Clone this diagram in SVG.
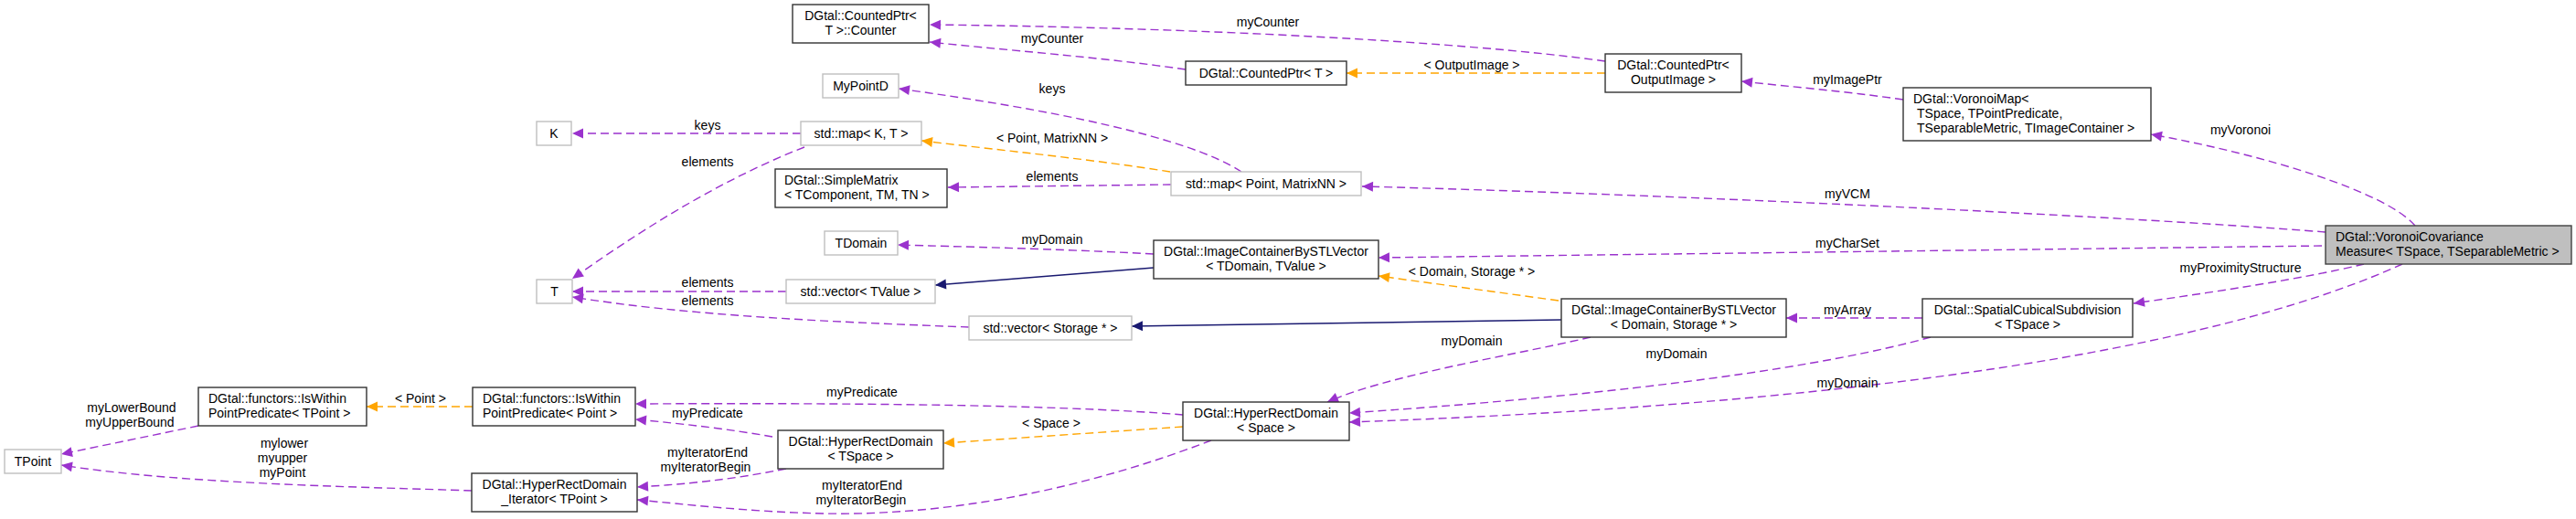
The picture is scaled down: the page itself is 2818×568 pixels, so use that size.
<svg xmlns="http://www.w3.org/2000/svg" width="2818" height="568" viewBox="0 0 2818 568">
<style>
text{font-family:"Liberation Sans",Arial,sans-serif;font-size:14px;fill:#000}
.c{text-anchor:middle}
.n rect{fill:#fff;stroke:#333;stroke-width:1.4}
.g rect{fill:#fff;stroke:#bfbfbf;stroke-width:1.4}
.m rect{fill:#bfbfbf;stroke:#404040;stroke-width:1.4}
.p{fill:none;stroke:#9a32cd;stroke-width:1.4;stroke-dasharray:9,5;marker-end:url(#ap)}
.o{fill:none;stroke:#ffa500;stroke-width:1.4;stroke-dasharray:9,5;marker-end:url(#ao)}
.s{fill:none;stroke:#191970;stroke-width:1.4;marker-end:url(#as)}
</style>
<defs>
<marker id="ap" markerUnits="userSpaceOnUse" markerWidth="13" markerHeight="11" refX="12" refY="5.5" orient="auto" overflow="visible"><path d="M0,0 L12,5.5 L0,11 z" fill="#9a32cd"/></marker>
<marker id="ao" markerUnits="userSpaceOnUse" markerWidth="13" markerHeight="11" refX="12" refY="5.5" orient="auto" overflow="visible"><path d="M0,0 L12,5.5 L0,11 z" fill="#ffa500"/></marker>
<marker id="as" markerUnits="userSpaceOnUse" markerWidth="13" markerHeight="11" refX="12" refY="5.5" orient="auto" overflow="visible"><path d="M0,0 L12,5.5 L0,11 z" fill="#191970"/></marker>
</defs>
<rect width="2818" height="568" fill="#fff"/>
<g id="edges">
<path class="p" d="M1756,67 C1600,45 1300,30 1017,27"/>
<text class="c" x="1387" y="29">myCounter</text>
<path class="p" d="M1297,76 C1200,62 1100,55 1017,46"/>
<text class="c" x="1151" y="47">myCounter</text>
<path class="o" d="M1756,80 L1473,80"/>
<text class="c" x="1610" y="76">&lt; OutputImage &gt;</text>
<path class="p" d="M2082,109 C2020,100 1960,95 1905,89"/>
<text class="c" x="2021" y="92">myImagePtr</text>
<path class="p" d="M2642,247 C2610,210 2480,170 2353,147"/>
<text class="c" x="2451" y="147">myVoronoi</text>
<path class="p" d="M1358,188 C1300,150 1150,120 983,97"/>
<text class="c" x="1151" y="102">keys</text>
<path class="o" d="M1280,188 C1200,175 1100,165 1008,154"/>
<text class="c" x="1151" y="156">&lt; Point, MatrixNN &gt;</text>
<path class="p" d="M1281,202 L1037,205"/>
<text class="c" x="1151" y="198">elements</text>
<path class="p" d="M2544,254 C2300,235 1800,212 1490,204"/>
<text class="c" x="2021" y="217">myVCM</text>
<path class="p" d="M876,146 L626,146"/>
<text class="c" x="774" y="142">keys</text>
<path class="p" d="M880,161 C780,200 690,260 626,305"/>
<text class="c" x="774" y="182">elements</text>
<path class="p" d="M1262,278 C1150,272 1050,270 982,268"/>
<text class="c" x="1151" y="267">myDomain</text>
<path class="p" d="M2540,269 L1508,282"/>
<text class="c" x="2021" y="271">myCharSet</text>
<path class="s" d="M1262,293 L1023,312"/>
<path class="p" d="M860,319 L626,319"/>
<text class="c" x="774" y="314">elements</text>
<path class="p" d="M1060,358 C900,352 750,345 626,325"/>
<text class="c" x="774" y="334">elements</text>
<path class="o" d="M1705,329 L1508,302"/>
<text class="c" x="1610" y="302">&lt; Domain, Storage * &gt;</text>
<path class="s" d="M1708,350 L1238,357"/>
<path class="p" d="M2103,348 L1954,348"/>
<text class="c" x="2021" y="344">myArray</text>
<path class="p" d="M2586,289 C2520,305 2420,320 2334,332"/>
<text class="c" x="2451" y="298">myProximityStructure</text>
<path class="p" d="M1740,369 C1650,390 1520,410 1452,440"/>
<text class="c" x="1610" y="378">myDomain</text>
<path class="p" d="M2112,369 C2000,400 1800,430 1476,452"/>
<text class="c" x="1834" y="392">myDomain</text>
<path class="p" d="M2628,289 C2450,370 2100,440 1476,462"/>
<text class="c" x="2021" y="424">myDomain</text>
<path class="p" d="M1294,454 C1150,442 900,441 695,442"/>
<text class="c" x="943" y="434">myPredicate</text>
<path class="o" d="M1294,467 L1032,485"/>
<text class="c" x="1150" y="468">&lt; Space &gt;</text>
<path class="p" d="M1325,482 C1200,530 1050,565 900,562 C820,560 750,552 697,547"/>
<text class="c" x="943" y="536">myIteratorEnd</text>
<text class="c" x="942" y="552">myIteratorBegin</text>
<path class="p" d="M845,478 C800,470 750,464 695,459"/>
<text class="c" x="774" y="457">myPredicate</text>
<path class="p" d="M860,513 C800,525 750,530 697,533"/>
<text class="c" x="774" y="500">myIteratorEnd</text>
<text class="c" x="772" y="516">myIteratorBegin</text>
<path class="o" d="M517,445 L401,445"/>
<text class="c" x="460" y="441">&lt; Point &gt;</text>
<path class="p" d="M217,466 L67,497"/>
<text class="c" x="144" y="451">myLowerBound</text>
<text class="c" x="142" y="467">myUpperBound</text>
<path class="p" d="M516,537 C400,533 200,530 67,509"/>
<text class="c" x="311" y="490">mylower</text>
<text class="c" x="309" y="506">myupper</text>
<text class="c" x="309" y="522">myPoint</text>
</g>
<g id="counter" class="n"><rect x="867" y="5" width="149" height="42"/><text class="c" x="941.5" y="22">DGtal::CountedPtr&lt;</text><text class="c" x="941.5" y="38">T &gt;::Counter</text></g>
<g id="countedptrT" class="n"><rect x="1297" y="67" width="176" height="26"/><text class="c" x="1385" y="85">DGtal::CountedPtr&lt; T &gt;</text></g>
<g id="countedptrOut" class="n"><rect x="1756" y="59" width="149" height="42"/><text class="c" x="1830.5" y="76">DGtal::CountedPtr&lt;</text><text class="c" x="1830.5" y="92">OutputImage &gt;</text></g>
<g id="voronoimap" class="n"><rect x="2082" y="96" width="271" height="58"/><text x="2093" y="113">DGtal::VoronoiMap&lt;</text><text x="2097" y="129">TSpace, TPointPredicate,</text><text x="2097" y="145">TSeparableMetric, TImageContainer &gt;</text></g>
<g id="vcm" class="m"><rect x="2544" y="247" width="269" height="42"/><text x="2555" y="264">DGtal::VoronoiCovariance</text><text x="2555" y="280">Measure&lt; TSpace, TSeparableMetric &gt;</text></g>
<g id="mypointd" class="g"><rect x="900" y="81" width="83" height="26"/><text class="c" x="941.5" y="99">MyPointD</text></g>
<g id="K" class="g"><rect x="587" y="133" width="38" height="26"/><text class="c" x="606" y="151">K</text></g>
<g id="mapKT" class="g"><rect x="876" y="133" width="132" height="26"/><text class="c" x="942" y="151">std::map&lt; K, T &gt;</text></g>
<g id="simplematrix" class="n"><rect x="848" y="185" width="188" height="42"/><text x="858" y="202">DGtal::SimpleMatrix</text><text x="858" y="218">&lt; TComponent, TM, TN &gt;</text></g>
<g id="mapPoint" class="g"><rect x="1281" y="188" width="208" height="26"/><text class="c" x="1385" y="206">std::map&lt; Point, MatrixNN &gt;</text></g>
<g id="tdomain" class="g"><rect x="902" y="253" width="80" height="26"/><text class="c" x="942" y="271">TDomain</text></g>
<g id="imgTDomain" class="n"><rect x="1262" y="263" width="246" height="42"/><text class="c" x="1385" y="280">DGtal::ImageContainerBySTLVector</text><text class="c" x="1385" y="296">&lt; TDomain, TValue &gt;</text></g>
<g id="T" class="g"><rect x="587" y="306" width="39" height="26"/><text class="c" x="606.5" y="324">T</text></g>
<g id="vecTValue" class="g"><rect x="860" y="306" width="163" height="26"/><text class="c" x="941.5" y="324">std::vector&lt; TValue &gt;</text></g>
<g id="vecStorage" class="g"><rect x="1060" y="346" width="178" height="26"/><text class="c" x="1149" y="364">std::vector&lt; Storage * &gt;</text></g>
<g id="imgDomain" class="n"><rect x="1708" y="327" width="246" height="42"/><text class="c" x="1831" y="344">DGtal::ImageContainerBySTLVector</text><text class="c" x="1831" y="360">&lt; Domain, Storage * &gt;</text></g>
<g id="scs" class="n"><rect x="2103" y="327" width="230" height="42"/><text class="c" x="2218" y="344">DGtal::SpatialCubicalSubdivision</text><text class="c" x="2218" y="360">&lt; TSpace &gt;</text></g>
<g id="hrdSpace" class="n"><rect x="1294" y="440" width="182" height="42"/><text class="c" x="1385" y="457">DGtal::HyperRectDomain</text><text class="c" x="1385" y="473">&lt; Space &gt;</text></g>
<g id="iswithinTPoint" class="n"><rect x="217" y="424" width="184" height="42"/><text x="228" y="441">DGtal::functors::IsWithin</text><text x="228" y="457">PointPredicate&lt; TPoint &gt;</text></g>
<g id="iswithinPoint" class="n"><rect x="517" y="424" width="178" height="42"/><text x="528" y="441">DGtal::functors::IsWithin</text><text x="528" y="457">PointPredicate&lt; Point &gt;</text></g>
<g id="hrdTSpace" class="n"><rect x="851" y="471" width="181" height="42"/><text class="c" x="941.5" y="488">DGtal::HyperRectDomain</text><text class="c" x="941.5" y="504">&lt; TSpace &gt;</text></g>
<g id="hrdIterator" class="n"><rect x="516" y="518" width="181" height="42"/><text class="c" x="606.5" y="535">DGtal::HyperRectDomain</text><text class="c" x="606.5" y="551">_Iterator&lt; TPoint &gt;</text></g>
<g id="tpoint" class="g"><rect x="5" y="492" width="62" height="26"/><text class="c" x="36" y="510">TPoint</text></g>
</svg>
